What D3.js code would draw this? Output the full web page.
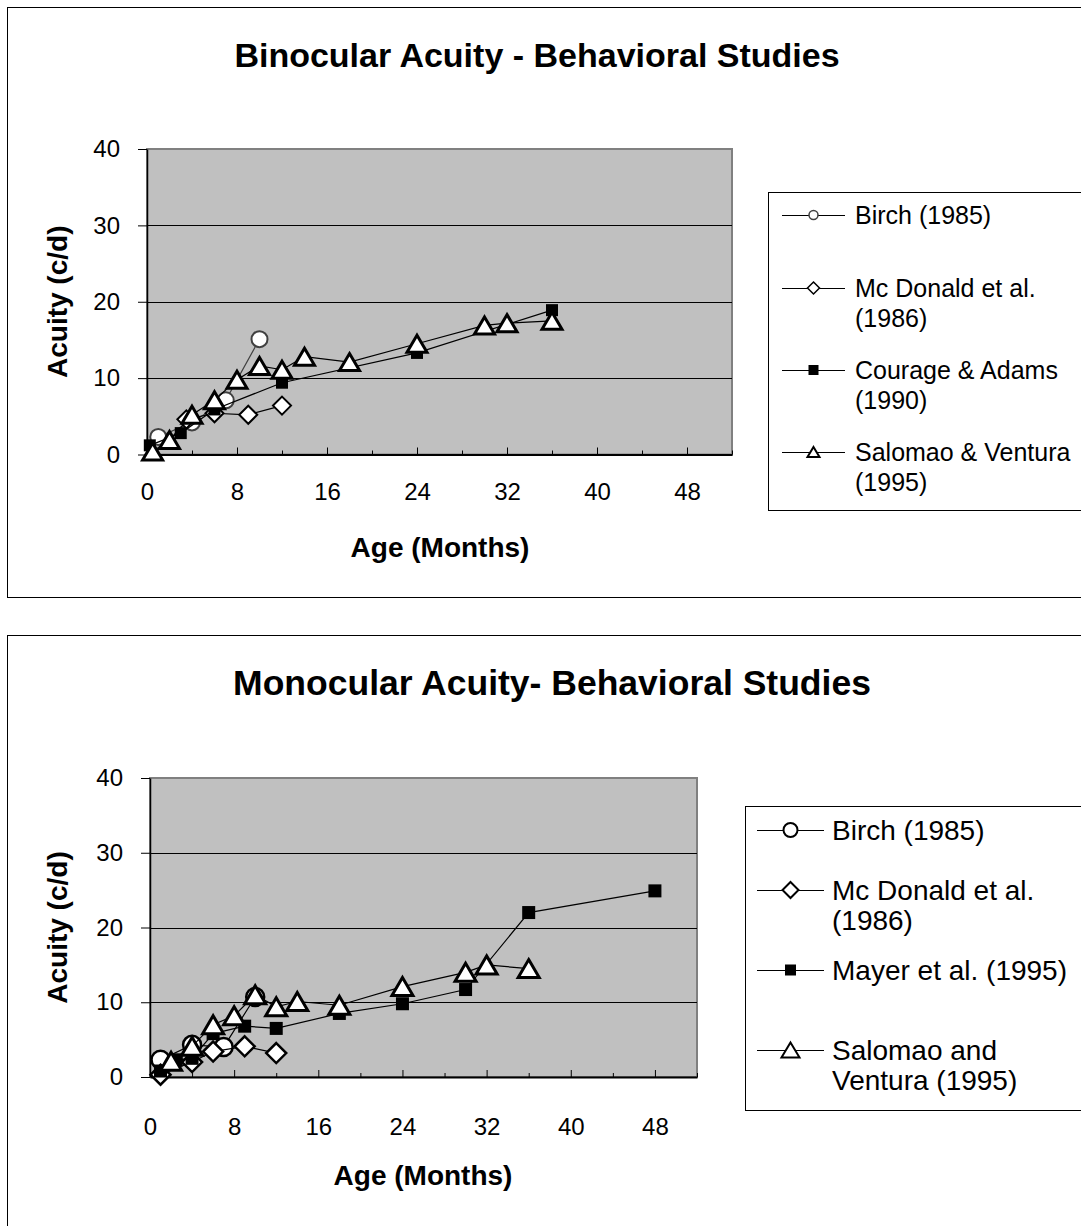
<!DOCTYPE html>
<html>
<head>
<meta charset="utf-8">
<script src="https://cdn.jsdelivr.net/npm/d3@7/dist/d3.min.js"></script>
<style>
  html, body { margin: 0; padding: 0; background: #ffffff; }
  svg { display: block; }
  text { font-family: "Liberation Sans", Arial, sans-serif; fill: #000; }
</style>
</head>
<body>
<svg id="chart" width="1081" height="1226"></svg>
<script>
// ---- axis ticks ----
const ageTicks = [0, 8, 16, 24, 32, 40, 48];
const ageMinorTicks = [4, 12, 20, 28, 36, 44, 52];
const acuityTicks = [0, 10, 20, 30, 40];

// ---- binocular acuity: [age in months, acuity in c/d] ----
const binoBirch    = [[1, 2.3], [4, 4.2], [7, 7.1], [10, 15.1]];
const binoMcDonald = [[3.5, 4.6], [6, 5.4], [9, 5.2], [12, 6.4]];
const binoCourage  = [[0.25, 1.2], [3, 2.8], [6, 5.9], [12, 9.4], [24, 13.3], [36, 18.9]];
const binoSalomao  = [[0.5, 0.4], [2, 1.9], [4, 5.2], [6, 7.1], [8, 9.8], [10, 11.6], [12, 11.1],
                      [14, 12.8], [18, 12.1], [24, 14.5], [30, 16.9], [32, 17.2], [36, 17.5]];
const binoLegend = [["Birch (1985)"], ["Mc Donald et al.", "(1986)"],
                    ["Courage & Adams", "(1990)"], ["Salomao & Ventura", "(1995)"]];

// ---- monocular acuity ----
const monoBirch    = [[1, 2.3], [4, 4.3], [7, 4.0], [10, 10.7]];
const monoMcDonald = [[1, 0.3], [4, 2.0], [6, 3.4], [9, 4.1], [12, 3.2]];
const monoMayer    = [[1, 0.8], [2.5, 2.3], [4, 2.5], [6, 5.8], [9, 6.8], [12, 6.5], [18, 8.5],
                      [24, 9.8], [30, 11.7], [36, 22.0], [48, 24.9]];
const monoSalomao  = [[2, 2.1], [4, 4.1], [6, 7.0], [8, 8.2], [10, 11.0], [12, 9.4], [14, 10.1],
                      [18, 9.6], [24, 12.1], [30, 14.0], [32, 15.0], [36, 14.5]];
const monoLegend = [["Birch (1985)"], ["Mc Donald et al.", "(1986)"],
                    ["Mayer et al. (1995)"], ["Salomao and", "Ventura (1995)"]];

const svg = d3.select("#chart");

// draws one marker of the given kind centred on (cx, cy)
function drawMarker(g, kind, cx, cy, st) {
  if (kind === "circle") {
    g.append("circle").attr("cx", cx).attr("cy", cy).attr("r", st.r)
      .attr("fill", "#fff").attr("stroke", st.stroke).attr("stroke-width", st.sw);
  } else if (kind === "diamond") {
    const s = st.s;
    g.append("path").attr("d", `M${cx},${cy - s}L${cx + s},${cy}L${cx},${cy + s}L${cx - s},${cy}Z`)
      .attr("fill", "#fff").attr("stroke", "#000").attr("stroke-width", st.sw)
      .attr("stroke-linejoin", "miter");
  } else if (kind === "square") {
    const s = st.s;
    g.append("rect").attr("x", cx - s / 2).attr("y", cy - s / 2).attr("width", s).attr("height", s)
      .attr("fill", "#000");
  } else if (kind === "triangle") {
    const w = st.w, h = st.h;
    g.append("path").attr("d", `M${cx},${cy - h / 2}L${cx + w / 2},${cy + h / 2}L${cx - w / 2},${cy + h / 2}Z`)
      .attr("fill", "#fff").attr("stroke", "#000").attr("stroke-width", st.sw)
      .attr("stroke-linejoin", "miter");
  }
}

function drawChart(cfg) {
  const g = svg.append("g");

  // outer frame
  g.append("rect").attr("x", cfg.frame.x + 0.5).attr("y", cfg.frame.y + 0.5)
    .attr("width", cfg.frame.w).attr("height", cfg.frame.h)
    .attr("fill", "#fff").attr("stroke", "#000").attr("stroke-width", 1);

  // title
  g.append("text").attr("x", cfg.titleX).attr("y", cfg.titleY)
    .attr("text-anchor", "middle").attr("dominant-baseline", "central")
    .attr("font-size", cfg.titleSize).attr("font-weight", "bold")
    .text(cfg.title);

  const p = cfg.plot;
  const x = d3.scaleLinear().domain([0, 52]).range([p.l, p.r]);
  const y = d3.scaleLinear().domain([0, 40]).range([p.b, p.t]);

  // plot area
  g.append("rect").attr("x", p.l).attr("y", p.t).attr("width", p.r - p.l).attr("height", p.b - p.t)
    .attr("fill", "#c0c0c0").attr("stroke", "#808080").attr("stroke-width", 2);

  // gridlines
  g.append("g").selectAll("line").data(acuityTicks.filter(v => v > 0 && v < 40)).join("line")
    .attr("x1", p.l).attr("x2", p.r).attr("y1", d => Math.round(y(d)) + 0.5).attr("y2", d => Math.round(y(d)) + 0.5)
    .attr("stroke", "#000").attr("stroke-width", 1);

  // y axis
  const yAxis = g.append("g").attr("transform", `translate(${p.l},0)`)
    .call(d3.axisLeft(y).tickValues(acuityTicks).tickSize(9).tickSizeOuter(0).tickPadding(cfg.yPad));
  yAxis.select(".domain").attr("stroke", "#000").attr("stroke-width", 1.5);
  yAxis.selectAll(".tick line").attr("stroke", "#000");
  yAxis.selectAll(".tick text").attr("font-size", cfg.tickSize)
    .attr("font-family", "'Liberation Sans', Arial, sans-serif").attr("fill", "#000");

  // x axis: minor ticks
  const xMinor = g.append("g").attr("transform", `translate(0,${p.b})`)
    .call(d3.axisBottom(x).tickValues(ageMinorTicks).tickSize(-4).tickSizeOuter(0).tickFormat(""));
  xMinor.select(".domain").remove();
  xMinor.selectAll(".tick line").attr("stroke", "#000");
  // x axis: major ticks with labels
  const xAxis = g.append("g").attr("transform", `translate(0,${p.b})`)
    .call(d3.axisBottom(x).tickValues(ageTicks).tickSize(-7).tickSizeOuter(0).tickPadding(cfg.xPad));
  xAxis.select(".domain").attr("stroke", "#000").attr("stroke-width", 2);
  xAxis.selectAll(".tick line").attr("stroke", "#000");
  xAxis.selectAll(".tick text").attr("font-size", cfg.tickSize)
    .attr("font-family", "'Liberation Sans', Arial, sans-serif").attr("fill", "#000");

  // axis titles
  g.append("text").attr("transform", `translate(${cfg.yTitleX},${(p.t + p.b) / 2}) rotate(-90)`)
    .attr("text-anchor", "middle").attr("dominant-baseline", "central")
    .attr("font-size", cfg.axisTitleSize).attr("font-weight", "bold").text("Acuity (c/d)");
  g.append("text").attr("x", cfg.xTitleX).attr("y", cfg.xTitleY)
    .attr("text-anchor", "middle").attr("dominant-baseline", "central")
    .attr("font-size", cfg.axisTitleSize).attr("font-weight", "bold").text("Age (Months)");

  // series: connecting line, then markers
  const line = d3.line().x(d => x(d[0])).y(d => y(d[1]));
  cfg.series.forEach(s => {
    const sg = g.append("g");
    sg.append("path").attr("d", line(s.data)).attr("fill", "none")
      .attr("stroke", s.lineColor).attr("stroke-width", 1.2);
    s.data.forEach(d => drawMarker(sg, s.kind, x(d[0]), y(d[1]), s.style));
  });

  // legend
  const L = cfg.legend;
  g.append("rect").attr("x", L.x + 0.5).attr("y", L.y + 0.5).attr("width", L.w).attr("height", L.h)
    .attr("fill", "#fff").attr("stroke", "#000").attr("stroke-width", 1);
  cfg.series.forEach((s, i) => {
    const ly = L.rows[i];
    g.append("line").attr("x1", L.lineX0).attr("x2", L.lineX1).attr("y1", ly + 0.5).attr("y2", ly + 0.5)
      .attr("stroke", "#000").attr("stroke-width", 1);
    drawMarker(g, s.kind, (L.lineX0 + L.lineX1) / 2, ly, s.legendStyle);
    s.label.forEach((t, j) => {
      g.append("text").attr("x", L.textX).attr("y", ly + j * L.lineGap)
        .attr("dominant-baseline", "central").attr("font-size", L.fontSize).text(t);
    });
  });
}

drawChart({
  frame: { x: 7, y: 7, w: 1090, h: 590 },
  title: "Binocular Acuity - Behavioral Studies", titleX: 537, titleY: 55, titleSize: 34,
  plot: { l: 147, r: 732, t: 149, b: 454.5 },
  yPad: 18, xPad: 28, tickSize: 24, axisTitleSize: 28,
  yTitleX: 57, xTitleX: 440, xTitleY: 547,
  series: [
    { data: binoBirch, kind: "circle", lineColor: "#404040", label: binoLegend[0],
      style: { r: 8, stroke: "#404040", sw: 2 }, legendStyle: { r: 4.5, stroke: "#404040", sw: 1.5 } },
    { data: binoMcDonald, kind: "diamond", lineColor: "#000", label: binoLegend[1],
      style: { s: 9, sw: 2 }, legendStyle: { s: 6, sw: 1.5 } },
    { data: binoCourage, kind: "square", lineColor: "#000", label: binoLegend[2],
      style: { s: 12 }, legendStyle: { s: 10 } },
    { data: binoSalomao, kind: "triangle", lineColor: "#000", label: binoLegend[3],
      style: { w: 20, h: 17, sw: 3 }, legendStyle: { w: 12, h: 10, sw: 2 } }
  ],
  legend: { x: 768, y: 192, w: 330, h: 318, rows: [215, 288, 370, 452], lineGap: 30,
            lineX0: 782, lineX1: 845, textX: 855, fontSize: 25 }
});

drawChart({
  frame: { x: 7, y: 635, w: 1090, h: 600 },
  title: "Monocular Acuity- Behavioral Studies", titleX: 552, titleY: 683, titleSize: 35.5,
  plot: { l: 150, r: 697, t: 778, b: 1077 },
  yPad: 18, xPad: 41, tickSize: 24, axisTitleSize: 28,
  yTitleX: 57, xTitleX: 423, xTitleY: 1175,
  series: [
    { data: monoBirch, kind: "circle", lineColor: "#000", label: monoLegend[0],
      style: { r: 9, stroke: "#000", sw: 2.5 }, legendStyle: { r: 7, stroke: "#000", sw: 2 } },
    { data: monoMcDonald, kind: "diamond", lineColor: "#000", label: monoLegend[1],
      style: { s: 10, sw: 2.5 }, legendStyle: { s: 8, sw: 2 } },
    { data: monoMayer, kind: "square", lineColor: "#000", label: monoLegend[2],
      style: { s: 13 }, legendStyle: { s: 11 } },
    { data: monoSalomao, kind: "triangle", lineColor: "#000", label: monoLegend[3],
      style: { w: 21, h: 18, sw: 3 }, legendStyle: { w: 18, h: 15, sw: 2 } }
  ],
  legend: { x: 745, y: 806, w: 350, h: 304, rows: [830, 890, 970, 1050], lineGap: 30,
            lineX0: 757, lineX1: 824, textX: 832, fontSize: 28 }
});
</script>
</body>
</html>
